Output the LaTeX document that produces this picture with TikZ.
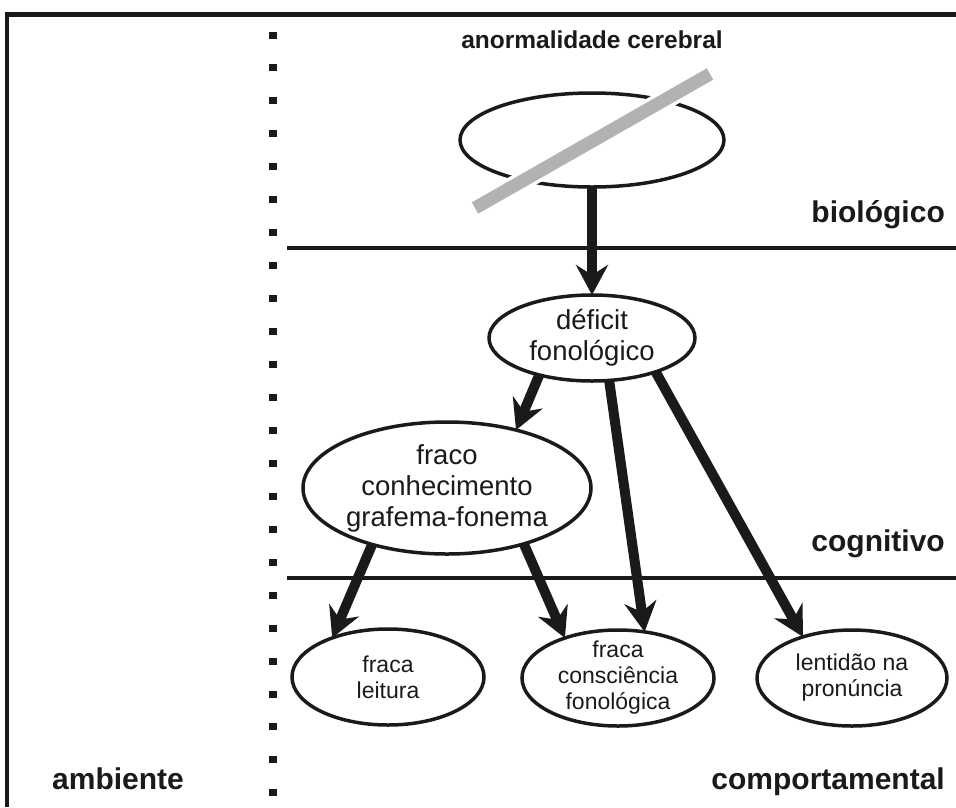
\documentclass[tikz,border=0pt]{standalone}
\usepackage{fontspec}
\setmainfont{Liberation Sans}
\usetikzlibrary{arrows.meta,shapes.geometric}
\definecolor{ink}{HTML}{1A1A1A}
\definecolor{bargray}{HTML}{B2B2B2}
\begin{document}
\begin{tikzpicture}[x=1pt,y=-1pt,
  ell/.style={ellipse, draw=ink, line width=3.5pt, inner sep=0pt, outer sep=0pt},
  arr/.style={draw=ink, line width=10pt, -{Stealth[length=30pt,width=32pt,inset=10pt]}},
  lvl/.style={font=\fontsize{30}{34}\selectfont\bfseries, inner sep=0pt, text=ink},
  txtA/.style={font=\fontsize{27.5}{31}\selectfont, align=center, inner sep=0pt, text=ink},
  txtB/.style={font=\fontsize{23}{26}\selectfont, align=center, inner sep=0pt, text=ink},
  rule/.style={draw=ink, line width=4pt},
  dotsq/.style={fill=ink, rectangle, minimum width=8pt, minimum height=7pt, inner sep=0pt}
]
\useasboundingbox (0,0) rectangle (956,807);

% frame
\draw[draw=ink, line width=5pt] (5,14.5) -- (956,14.5);
\draw[draw=ink, line width=4.5pt] (7,12) -- (7,807);

% dotted divider
\foreach \i in {0,...,23} \node[dotsq] (d\i) at (273,35+\i*32.95) {};

% level rules
\draw[rule] (287,248) -- (956,248);
\draw[rule] (287,578) -- (956,578);

% labels
\node[font=\fontsize{24.5}{28}\selectfont\bfseries, anchor=base, inner sep=0pt, text=ink] (ac) at (592,48) {anormalidade cerebral};
\node[lvl, anchor=base east] (bio) at (945,222) {biológico};
\node[lvl, anchor=base east] (cog) at (945,551) {cognitivo};
\node[lvl, anchor=base east] (comp) at (945,789) {comportamental};
\node[lvl, anchor=base west] (amb) at (52,789) {ambiente};

% ellipses
\node[ell, minimum width=264pt, minimum height=94pt] (e0) at (592,140) {};
\node[ell, minimum width=206pt, minimum height=86pt] (def) at (592,338) {};
\node[txtA] (tdef) at (def.center) {déficit\\fonológico};
\node[ell, minimum width=288pt, minimum height=132pt] (con) at (447,488) {};
\node[txtA] (tcon) at (con.center) {fraco\\conhecimento\\grafema-fonema};
\node[ell, minimum width=192pt, minimum height=96pt] (leit) at (388,677) {};
\node[txtB] (tleit) at (leit.center) {fraca\\leitura};
\node[ell, minimum width=192pt, minimum height=96pt] (cons) at (618,678) {};
\node[txtB] (tcons) at (cons.center) {fraca\\consciência\\fonológica};
\node[ell, minimum width=190pt, minimum height=96pt] (lent) at (852,678) {};
\node[txtB] (tlent) at (lent.center) {lentidão na\\pronúncia};

% crossing bar
\coordinate (b1) at (475,208);
\coordinate (b2) at (710,74);
\draw[white, line width=20pt] (b1) -- (b2);
\draw[bargray, line width=13pt] (b1) -- (b2);

% arrows
\draw[arr] (e0.south) -- (def.north);
\draw[arr] (def.215) -- (con.40);
\draw[arr] (def.-68) -- (cons.60);
\draw[arr] (def.-28) -- (lent.140);
\draw[arr] (con.-143.5) -- (leit.145);
\draw[arr] (con.-36) -- (cons.143);
\end{tikzpicture}
\end{document}
